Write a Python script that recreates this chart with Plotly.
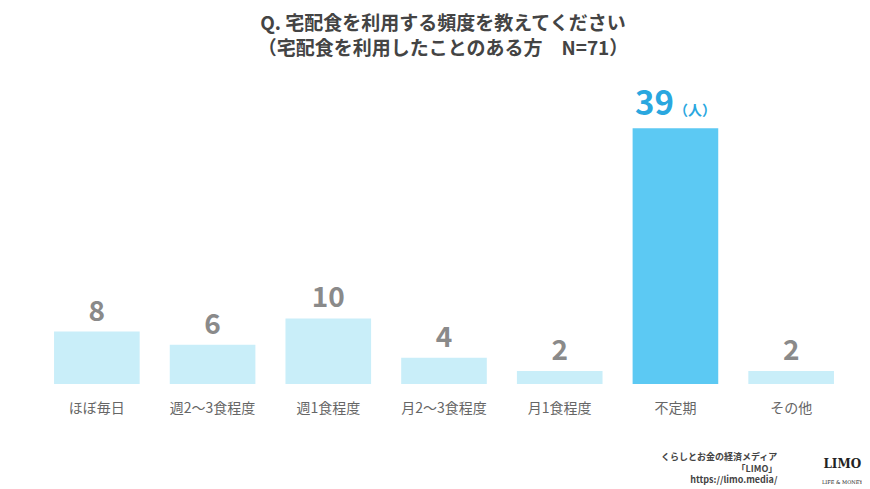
import plotly.graph_objects as go

categories = ["ほぼ毎日", "週2～3食程度", "週1食程度", "月2～3食程度", "月1食程度", "不定期", "その他"]
values = [8, 6, 10, 4, 2, 39, 2]
highlight = "不定期"

colors = ["#5cc9f3" if c == highlight else "#c9eef9" for c in categories]
text = ["<b>%d</b><span style='font-size:14px'><b>（人）</b></span>" % v if c == highlight else "<b>%d</b>" % v
        for c, v in zip(categories, values)]
text_colors = ["#2aa7df" if c == highlight else "#8a8a8a" for c in categories]
text_sizes = [33 if c == highlight else 28 for c in categories]

fig = go.Figure(go.Bar(
    x=categories, y=values, marker=dict(color=colors, line=dict(width=0)),
    width=0.74, text=text, textposition="outside", cliponaxis=False,
    textfont=dict(size=text_sizes, color=text_colors, family="Noto Sans CJK JP"),
))

fig.update_layout(
    width=870, height=489, plot_bgcolor="white", paper_bgcolor="white",
    margin=dict(l=31, r=29, t=90, b=113),
    title=dict(text="<b>Q. 宅配食を利用する頻度を教えてください<br>（宅配食を利用したことのある方　N=71）</b>",
               x=0.5, xanchor="center", y=0.955, yanchor="top",
               font=dict(size=19, color="#444444", family="Noto Sans CJK JP")),
    xaxis=dict(showline=False, ticks="", ticklabelstandoff=14,
               tickfont=dict(size=14, color="#666666", family="Noto Sans CJK JP")),
    yaxis=dict(visible=False, range=[0, 43.6]),
    showlegend=False,
    font=dict(family="Noto Sans CJK JP"),
)

fig.add_annotation(x=0.915, y=-0.365, xref="paper", yref="paper", xanchor="right", yanchor="bottom",
                   showarrow=False, align="right",
                   text="<b>くらしとお金の経済メディア</b><br><b>「LIMO」</b><br><b>https://limo.media/</b>",
                   font=dict(size=9, color="#444444"))
fig.add_annotation(x=1.02, y=-0.36, xref="paper", yref="paper", xanchor="right", yanchor="bottom",
                   showarrow=False, align="center",
                   text="<b>LIMO</b><br><span style='font-size:5px'>LIFE & MONEY</span>",
                   font=dict(size=12, color="#222222", family="DejaVu Serif"))

fig.write_html("out.html")
